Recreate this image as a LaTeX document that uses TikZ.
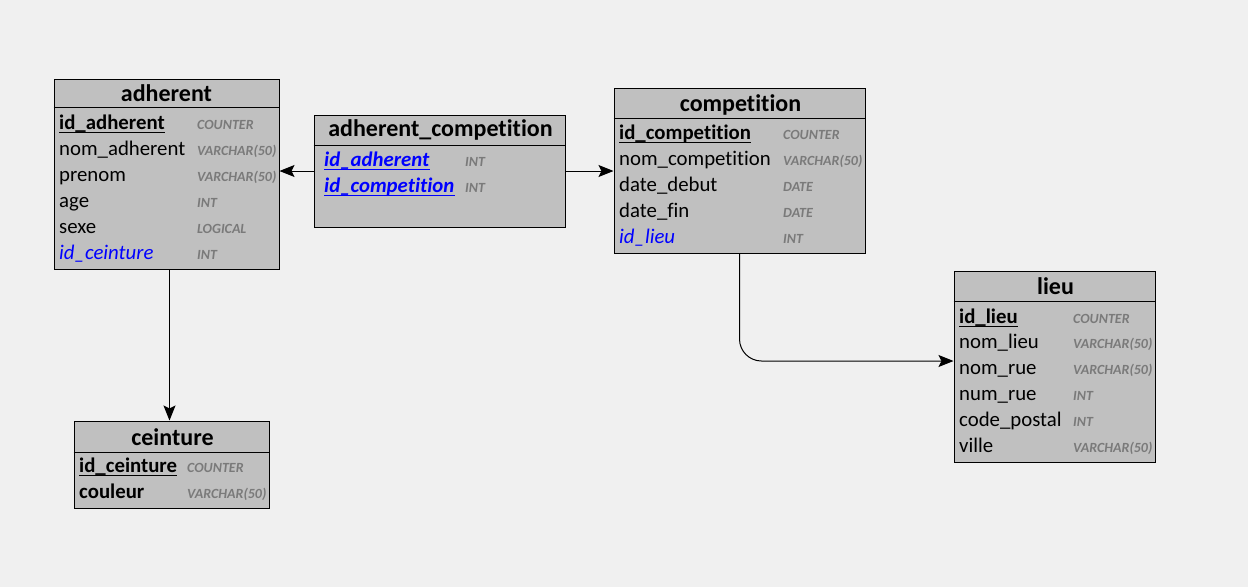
\documentclass[tikz,border=0pt]{standalone}
\usepackage{fontspec}
\setmainfont{Carlito}[Ligatures={NoCommon,NoContextual}, RawFeature={-liga;-clig;-dlig}]
\usetikzlibrary{arrows.meta}
\definecolor{bg}{HTML}{F0F0F0}
\definecolor{boxfill}{HTML}{C0C0C0}
\definecolor{typegray}{HTML}{7A7A7A}
\definecolor{fkblue}{HTML}{0000FF}
\tikzset{
  x=1pt, y=-1pt,
  tbox/.style={draw=black, fill=boxfill, line width=1pt, inner sep=0pt, rectangle},
  ttl/.style={anchor=base, inner sep=0pt, font=\fontsize{24}{26}\selectfont\bfseries},
  fld/.style={anchor=base west, inner sep=0pt, font=\fontsize{20.8}{22}\selectfont},
  pkf/.style={fld, font=\fontsize{20.8}{22}\selectfont\bfseries},
  fkf/.style={fld, text=fkblue, font=\fontsize{20.8}{22}\selectfont\itshape},
  fkpk/.style={fld, text=fkblue, font=\fontsize{20.8}{22}\selectfont\bfseries\itshape},
  typ/.style={anchor=base west, inner sep=0pt, text=typegray, font=\fontsize{14}{15}\selectfont\bfseries\itshape},
  sep/.style={draw=black, line width=1pt},
  ul/.style={line width=1.6pt},
  arr/.style={draw=black, line width=1pt, -{Stealth[length=15pt,width=12pt,inset=3pt]}}
}
\newcommand\pkline[2]{\draw[ul,#2] ([yshift=-3.5pt]#1.base west) -- ([yshift=-3.5pt]#1.base east);}
\begin{document}
\begin{tikzpicture}
\fill[bg] (0,0) rectangle (1248,587);
\useasboundingbox (0,0) rectangle (1248,587);

% ---------- adherent ----------
\node[tbox, minimum width=225pt, minimum height=190pt] (adh) at (166.5,174) {};
\draw[sep] (adh.west |- 0,107.5) -- (adh.east |- 0,107.5);
\node[ttl] (adh-t) at (166.5,101) {adherent};
\node[pkf] (adh-1) at (59,129) {id\_adherent};
\node[fld] (adh-2) at (59,155) {nom\_adherent};
\node[fld] (adh-3) at (59,181) {prenom};
\node[fld] (adh-4) at (59,207) {age};
\node[fld] (adh-5) at (59,233) {sexe};
\node[fkf] (adh-6) at (59,259) {id\_ceinture};
\node[typ] (adh-1t) at (197,129) {COUNTER};
\node[typ] (adh-2t) at (197,155) {VARCHAR(50)};
\node[typ] (adh-3t) at (197,181) {VARCHAR(50)};
\node[typ] (adh-4t) at (197,207) {INT};
\node[typ] (adh-5t) at (197,233) {LOGICAL};
\node[typ] (adh-6t) at (197,259) {INT};
\pkline{adh-1}{black}

% ---------- adherent_competition ----------
\node[tbox, minimum width=251pt, minimum height=112pt] (ac) at (439.5,171) {};
\draw[sep] (ac.west |- 0,145) -- (ac.east |- 0,145);
\node[ttl] (ac-t) at (440.5,136.5) {adherent\_competition};
\node[fkpk] (ac-1) at (324,166) {id\_adherent};
\node[fkpk] (ac-2) at (324,192) {id\_competition};
\node[typ] (ac-1t) at (465,166) {INT};
\node[typ] (ac-2t) at (465,192) {INT};
\pkline{ac-1}{fkblue}
\pkline{ac-2}{fkblue}

% ---------- competition ----------
\node[tbox, minimum width=251pt, minimum height=165pt] (comp) at (739.5,170.5) {};
\draw[sep] (comp.west |- 0,118) -- (comp.east |- 0,118);
\node[ttl] (comp-t) at (740.5,111.5) {competition};
\node[pkf] (comp-1) at (619,139) {id\_competition};
\node[fld] (comp-2) at (619,165) {nom\_competition};
\node[fld] (comp-3) at (619,191) {date\_debut};
\node[fld] (comp-4) at (619,217) {date\_fin};
\node[fkf] (comp-5) at (619,243) {id\_lieu};
\node[typ] (comp-1t) at (783,139) {COUNTER};
\node[typ] (comp-2t) at (783,165) {VARCHAR(50)};
\node[typ] (comp-3t) at (783,191) {DATE};
\node[typ] (comp-4t) at (783,217) {DATE};
\node[typ] (comp-5t) at (783,243) {INT};
\pkline{comp-1}{black}

% ---------- lieu ----------
\node[tbox, minimum width=201pt, minimum height=191pt] (lieu) at (1054.5,366.5) {};
\draw[sep] (lieu.west |- 0,301) -- (lieu.east |- 0,301);
\node[ttl] (lieu-t) at (1055.5,294) {lieu};
\node[pkf] (lieu-1) at (959,323) {id\_lieu};
\node[fld] (lieu-2) at (959,348.8) {nom\_lieu};
\node[fld] (lieu-3) at (959,374.6) {nom\_rue};
\node[fld] (lieu-4) at (959,400.4) {num\_rue};
\node[fld] (lieu-5) at (959,426.2) {code\_postal};
\node[fld] (lieu-6) at (959,452) {ville};
\node[typ] (lieu-1t) at (1073,323) {COUNTER};
\node[typ] (lieu-2t) at (1073,348.8) {VARCHAR(50)};
\node[typ] (lieu-3t) at (1073,374.6) {VARCHAR(50)};
\node[typ] (lieu-4t) at (1073,400.4) {INT};
\node[typ] (lieu-5t) at (1073,426.2) {INT};
\node[typ] (lieu-6t) at (1073,452) {VARCHAR(50)};
\pkline{lieu-1}{black}

% ---------- ceinture ----------
\node[tbox, minimum width=195pt, minimum height=87pt] (cein) at (171.5,464.5) {};
\draw[sep] (cein.west |- 0,452) -- (cein.east |- 0,452);
\node[ttl] (cein-t) at (172.5,445) {ceinture};
\node[pkf] (cein-1) at (79,472) {id\_ceinture};
\node[pkf] (cein-2) at (79,498) {couleur};
\node[typ] (cein-1t) at (187,472) {COUNTER};
\node[typ] (cein-2t) at (187,498) {VARCHAR(50)};
\pkline{cein-1}{black}

% ---------- connectors ----------
\draw[arr] (ac.west) -- (adh.east |- ac.west);
\draw[arr] (ac.east) -- (comp.west |- ac.east);
\draw[arr] (adh.south -| 169.5,0) -- (cein.north -| 169.5,0);
\draw[arr, rounded corners=22pt] (comp.south -| 739.5,0) -- (739.5,361) -- (lieu.west |- 0,361);
\end{tikzpicture}
\end{document}
